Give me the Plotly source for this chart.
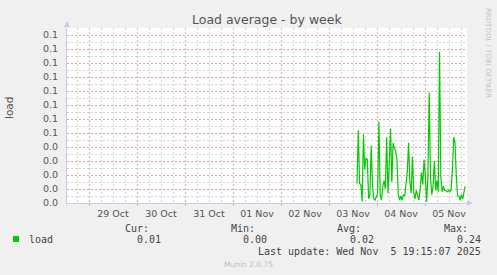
import pandas as pd
import plotly.graph_objects as go

# ---- data ----
load = [0.014, 0.052, 0.014, 0.013, 0.001, 0.049, 0.024, 0.032, 0.031, 0.003,
        0.006, 0.041, 0.013, 0.003, 0.002, 0.005, 0.007, 0.058, 0.006, 0.002,
        0.012, 0.016, 0.010, 0.047, 0.007, 0.028, 0.053, 0.015, 0.043, 0.039,
        0.037, 0.031, 0.006, 0.002, 0.005, 0.002, 0.006, 0.005, 0.013, 0.022,
        0.043, 0.015, 0.007, 0.033, 0.008, 0.003, 0.009, 0.006, 0.002, 0.010,
        0.022, 0.013, 0.031, 0.019, 0.001, 0.019, 0.079, 0.018, 0.006, 0.012,
        0.030, 0.009, 0.016, 0.008, 0.108, 0.019, 0.008, 0.012, 0.009, 0.009,
        0.008, 0.009, 0.008, 0.010, 0.024, 0.047, 0.043, 0.019, 0.005, 0.005,
        0.002, 0.006, 0.003, 0.008, 0.012]
data_start = "2025-11-03 14:00"
data_end = "2025-11-05 20:10"
times = pd.date_range(data_start, data_end, periods=len(load))

x_range = ["2025-10-28 13:00", "2025-11-05 21:00"]
y_tick_vals = [0.00, 0.01, 0.02, 0.03, 0.04, 0.05, 0.06, 0.07, 0.08, 0.09, 0.10, 0.11, 0.12]
y_tick_text = ["0.0", "0.0", "0.0", "0.0", "0.0", "0.1", "0.1", "0.1", "0.1", "0.1", "0.1", "0.1", "0.1"]
y_max = 0.125

series_name = "load"
stat_headers = ["Cur:", "Min:", "Avg:", "Max:"]
stat_values = ["0.01", "0.00", "0.02", "0.24"]
last_update = "Last update: Wed Nov  5 19:15:07 2025"
title = "Load average - by week"
version = "Munin 2.0.75"
side_text = "RRDTOOL / TOBI OETIKER"

# ---- layout geometry ----
W, H = 497, 275
L, R, T, B = 67, 467, 28, 203


def px(x):
    return (x - L) / (R - L)


def py(y):
    return (B - y) / (B - T)


fig = go.Figure()
fig.add_trace(go.Scatter(x=times, y=load, mode="lines",
                         line=dict(color="#00CC00", width=1.2),
                         hoverinfo="skip", showlegend=False))

MONO = "DejaVu Sans Mono"
SANS = "DejaVu Sans"
major_grid = "#E2A6A6"
minor_grid = "#D2D2D2"
axis_col = "#C8C8F0"
DASH = "2px,2px"

fig.update_layout(
    width=W, height=H,
    margin=dict(l=L, r=W - R, t=T, b=H - B),
    paper_bgcolor="#F0F0F0", plot_bgcolor="#FFFFFF",
    showlegend=False,
    xaxis=dict(
        range=x_range, type="date",
        tick0="2025-10-29", dtick=86400000, tickformat="%d %b",
        ticklabelmode="period",
        showgrid=True, gridcolor=major_grid, griddash=DASH, gridwidth=1,
        ticks="outside", ticklen=2, tickcolor=major_grid,
        minor=dict(dtick=21600000, tick0="2025-10-29", showgrid=True,
                   gridcolor=minor_grid, griddash=DASH, gridwidth=1, ticks=""),
        tickfont=dict(family=SANS, size=9.5, color="#555555"),
        showline=True, linecolor=axis_col, linewidth=1,
        zeroline=False, fixedrange=True, layer="below traces",
    ),
    yaxis=dict(
        range=[0, y_max], tickvals=y_tick_vals, ticktext=y_tick_text,
        showgrid=True, gridcolor=major_grid, griddash=DASH, gridwidth=1,
        ticks="", ticklabelstandoff=6,
        minor=dict(dtick=0.005, tick0=0, showgrid=True,
                   gridcolor=minor_grid, griddash=DASH, gridwidth=1, ticks=""),
        tickfont=dict(family=SANS, size=9.5, color="#555555"),
        showline=True, linecolor=axis_col, linewidth=1,
        zeroline=False, fixedrange=True,
    ),
)

ann = []
ann.append(dict(text=title, x=px(267), y=py(19), xref="paper", yref="paper",
                showarrow=False, xanchor="center", yanchor="middle",
                font=dict(family=SANS, size=12.5, color="#555555")))
ann.append(dict(text="load", x=px(9), y=py(108), xref="paper", yref="paper",
                showarrow=False, xanchor="center", yanchor="middle", textangle=-90,
                font=dict(family=SANS, size=10.5, color="#555555")))
ann.append(dict(text=side_text, x=px(488), y=py(53), xref="paper", yref="paper",
                showarrow=False, xanchor="center", yanchor="middle", textangle=90,
                font=dict(family=SANS, size=7, color="#C4C4C4")))
ann.append(dict(text=series_name, x=px(27), y=py(239), xref="paper", yref="paper",
                showarrow=False, xanchor="left", yanchor="middle",
                font=dict(family=MONO, size=10, color="#444444")))
header_right = [151, 257, 363, 470]
value_right = [163, 269, 376, 483]
for h, hx in zip(stat_headers, header_right):
    ann.append(dict(text=h, x=px(hx), y=py(228), xref="paper", yref="paper",
                    showarrow=False, xanchor="right", yanchor="middle",
                    font=dict(family=MONO, size=10, color="#444444")))
for v, vx in zip(stat_values, value_right):
    ann.append(dict(text=v, x=px(vx), y=py(239), xref="paper", yref="paper",
                    showarrow=False, xanchor="right", yanchor="middle",
                    font=dict(family=MONO, size=10, color="#444444")))
ann.append(dict(text=last_update.replace("  ", "&nbsp; "), x=px(483), y=py(251),
                xref="paper", yref="paper", showarrow=False,
                xanchor="right", yanchor="middle",
                font=dict(family=MONO, size=10, color="#444444")))
ann.append(dict(text=version, x=px(248), y=py(264), xref="paper", yref="paper",
                showarrow=False, xanchor="center", yanchor="middle",
                font=dict(family=SANS, size=7.5, color="#C0C0C0")))
fig.update_layout(annotations=ann)

shapes = []
shapes.append(dict(type="rect", xref="paper", yref="paper",
                   x0=px(13), x1=px(19), y0=py(242), y1=py(236),
                   fillcolor="#00CC00", line=dict(width=0)))
shapes.append(dict(type="path", xref="paper", yref="paper",
                   path=f"M {px(64)} {py(27)} L {px(70)} {py(27)} L {px(67)} {py(21)} Z",
                   fillcolor=axis_col, line=dict(width=0)))
shapes.append(dict(type="path", xref="paper", yref="paper",
                   path=f"M {px(467)} {py(200)} L {px(467)} {py(206)} L {px(473)} {py(203)} Z",
                   fillcolor=axis_col, line=dict(width=0)))
fig.update_layout(shapes=shapes)

fig.write_html("out.html")
